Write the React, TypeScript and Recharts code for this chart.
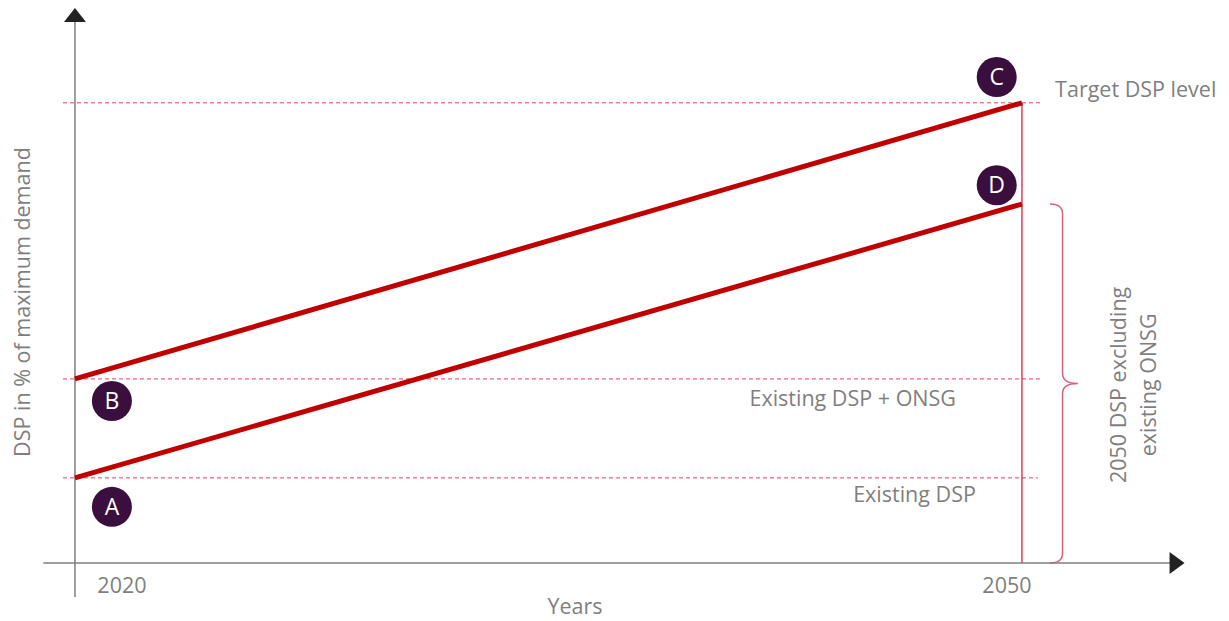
import React from 'react';
import { LineChart, Line, XAxis, YAxis, ReferenceLine, ReferenceDot, ReferenceArea } from 'recharts';

// conceptual chart: values are "% of max demand" on an arbitrary scale
const years = [2020, 2050];
const targetPath = [40, 100];
const existingPath = [18.5, 78];
const tickYears = [2020, 2050];

const targetLevel = 100;
const onsgLevel = 40;
const existingLevel = 18.5;

const markerLetters = ['A', 'B', 'C', 'D'];
const markerYears = [2021.17, 2021.17, 2049.2, 2049.2];
const markerValues = [12.2, 35.2, 105.6, 82.1];

const RED = '#c00000';
const DASH = '#e0405e';
const GREY = '#7f7f7f';
const PURPLE = '#3a0e3d';
const FONT = '"Open Sans", sans-serif';
const FS = 21.5;

const data = years.map((year, i) => ({ year, upper: targetPath[i], lower: existingPath[i] }));

const tickShift: Record<number, number> = { 2020: 47, 2050: -15 };

const YearTick = (props: any) => {
  const { x, y, payload } = props;
  return (
    <text x={x + (tickShift[payload.value] || 0)} y={y + 13} textAnchor="middle" dominantBaseline="central"
      fontFamily={FONT} fontSize={FS} fill={GREY}>
      {payload.value}
    </text>
  );
};

const textShape = (label: string, anchor: string, rotate = false) => (p: any) => (
  <text x={p.cx} y={p.cy} textAnchor={anchor} dominantBaseline="central" fontFamily={FONT}
    fontSize={FS} fill={GREY} transform={rotate ? `rotate(-90 ${p.cx} ${p.cy})` : undefined}>
    {label}
  </text>
);

const upArrow = (p: any) => (
  <polygon points={`${p.cx},${p.cy} ${p.cx - 11},${p.cy + 14} ${p.cx + 11},${p.cy + 14}`} fill="#222" />
);
const rightArrow = (p: any) => (
  <polygon points={`${p.cx},${p.cy} ${p.cx - 15},${p.cy - 11} ${p.cx - 15},${p.cy + 11}`} fill="#222" />
);

const Brace = (p: any) => {
  const { x, y, width, height } = p;
  const mid = y + height * 0.5;
  const xm = x + width * 0.45;
  const r = 10;
  const d = `M ${x} ${y} Q ${xm} ${y} ${xm} ${y + r} L ${xm} ${mid - r} Q ${xm} ${mid} ${x + width} ${mid}
    Q ${xm} ${mid} ${xm} ${mid + r} L ${xm} ${y + height - r} Q ${xm} ${y + height} ${x} ${y + height}`;
  return <path d={d} fill="none" stroke="#d9607a" strokeWidth={1.5} />;
};

export default function App() {
  return (
    <div style={{ position: 'absolute', left: 0, top: 0, background: '#fff' }}>
      <LineChart width={1229} height={621} data={data} margin={{ top: 8, right: 49.2, bottom: 18, left: 43.4 }}>
        <XAxis dataKey="year" type="number" domain={[2019, 2055]} ticks={tickYears} height={40}
          axisLine={{ stroke: GREY, strokeWidth: 1.5 }} tickLine={false} tick={<YearTick />} />
        <YAxis hide type="number" domain={[0, 120.6]} allowDataOverflow />

        <ReferenceLine segment={[{ x: 2019.62, y: targetLevel }, { x: 2050.57, y: targetLevel }]}
          stroke={DASH} strokeDasharray="4 3" />
        <ReferenceLine segment={[{ x: 2019.62, y: onsgLevel }, { x: 2050.57, y: onsgLevel }]}
          stroke={DASH} strokeDasharray="4 3" />
        <ReferenceLine segment={[{ x: 2019.62, y: existingLevel }, { x: 2050.5, y: existingLevel }]}
          stroke={DASH} strokeDasharray="4 3" />
        <ReferenceLine segment={[{ x: 2050, y: 0 }, { x: 2050, y: targetLevel }]} stroke="#d0103a" strokeWidth={1.2} />
        <ReferenceLine segment={[{ x: 2020, y: -7.4 }, { x: 2020, y: 117.6 }]} stroke={GREY} strokeWidth={1.5}
          ifOverflow="visible" />

        <Line dataKey="upper" stroke={RED} strokeWidth={5} dot={false} isAnimationActive={false} />
        <Line dataKey="lower" stroke={RED} strokeWidth={5} dot={false} isAnimationActive={false} />

        <ReferenceArea x1={2050.89} x2={2051.77} y1={0} y2={existingPath[1]} shape={<Brace />} />

        <ReferenceDot x={2020} y={120.6} r={0} shape={upArrow} ifOverflow="visible" />
        <ReferenceDot x={2055.15} y={0} r={0} shape={rightArrow} ifOverflow="visible" />

        {markerLetters.map((m, i) => (
          <ReferenceDot key={m} x={markerYears[i]} y={markerValues[i]} r={20} fill={PURPLE} stroke="none"
            label={{ value: m, position: 'center', fill: '#fff', fontSize: 23, fontFamily: FONT }} />
        ))}

        <ReferenceDot x={2051.05} y={103} r={0} shape={textShape('Target DSP level', 'start')} ifOverflow="visible" />
        <ReferenceDot x={2047.91} y={36.07} r={0} shape={textShape('Existing DSP + ONSG', 'end')} />
        <ReferenceDot x={2048.54} y={15.2} r={0} shape={textShape('Existing DSP', 'end')} />
        <ReferenceDot x={2035.84} y={-9.3} r={0} shape={textShape('Years', 'middle')} ifOverflow="visible" />
        <ReferenceDot x={2018.32} y={56.7} r={0} shape={textShape('DSP in % of maximum demand', 'middle', true)}
          ifOverflow="visible" />
        <ReferenceDot x={2053.04} y={38.7} r={0} shape={textShape('2050 DSP excluding', 'middle', true)}
          ifOverflow="visible" />
        <ReferenceDot x={2053.99} y={38.7} r={0} shape={textShape('existing ONSG', 'middle', true)}
          ifOverflow="visible" />
      </LineChart>
    </div>
  );
}
